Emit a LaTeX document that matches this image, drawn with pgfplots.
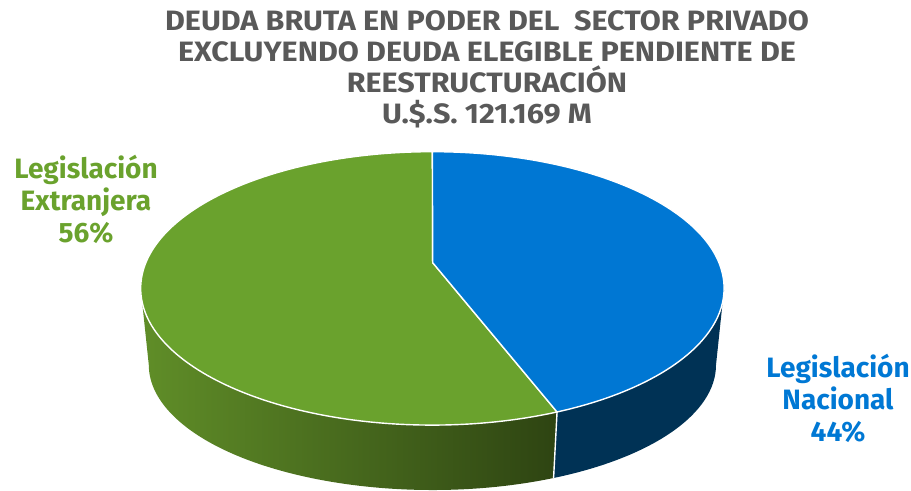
\documentclass[border=0pt]{standalone}
\usepackage{pgfplots}
\pgfplotsset{compat=1.18}
\usepackage{pgfplotstable}
\usepackage{fontspec}
\setmainfont{Fira Sans}
\newfontfamily\titlefont{Fira Sans}[FakeStretch=1.09]
\definecolor{gtop}{RGB}{106,162,45}
\definecolor{gside1}{RGB}{96,142,40}
\definecolor{gside2}{RGB}{46,68,18}
\definecolor{btop}{RGB}{0,119,211}
\definecolor{bside}{RGB}{0,50,85}
\definecolor{ttl}{RGB}{89,89,89}
\definecolor{glab}{RGB}{106,162,45}
\definecolor{blab}{RGB}{0,120,212}
\pgfplotstableread{
label value
Nacional 44
Extranjera 56
}\piedata
\begin{document}
\begin{tikzpicture}
\pgfplotstablegetelem{0}{value}\of\piedata
\let\valN\pgfplotsretval
% angle of the split (clockwise from top), with a perspective warp of the top face
\pgfmathsetmacro\thetaN{90-3.6*\valN}
\pgfmathsetmacro\psiHalf{(\thetaN-90)/2}
\pgfmathsetmacro\phiN{90+2*atan(0.85*tan(\psiHalf))}
\pgfmathsetmacro\phiA{\phiN+360}
\begin{axis}[scale only axis, width=455.5pt, height=245.5pt,
  xmin=0, xmax=911, ymin=0, ymax=491, hide axis, clip=false]
\path (axis cs:0,0) rectangle (axis cs:911,491);
\def\tc{axis cs:432.4,202.6}
\def\bc{axis cs:432.4,126}
\def\pc{axis cs:432.7,228.3}
% green side
\path[left color=gside1, right color=gside2]
  ([shift={(180:145.85pt and 68.35pt)}]\tc) arc[start angle=180, end angle=\phiA, x radius=145.85pt, y radius=68.35pt]
  -- ([shift={(\phiA:141.8pt and 62.5pt)}]\bc) arc[start angle=\phiA, end angle=180, x radius=141.8pt, y radius=62.5pt] -- cycle;
% navy side
\fill[bside]
  ([shift={(\phiA:145.85pt and 68.35pt)}]\tc) arc[start angle=\phiA, end angle=360, x radius=145.85pt, y radius=68.35pt]
  -- ([shift={(360:141.8pt and 62.5pt)}]\bc) arc[start angle=360, end angle=\phiA, x radius=141.8pt, y radius=62.5pt] -- cycle;
\draw[white, line width=0.7pt] ([shift={(\phiA:145.85pt and 68.35pt)}]\tc) -- ([shift={(\phiA:141.8pt and 62.5pt)}]\bc);
% top face
\filldraw[fill=gtop, draw=white, line width=0.7pt, line join=round]
  (\pc) -- ([shift={(90:145.85pt and 68.35pt)}]\tc) arc[start angle=90, end angle=\phiA, x radius=145.85pt, y radius=68.35pt] -- cycle;
\filldraw[fill=btop, draw=white, line width=0.7pt, line join=round]
  (\pc) -- ([shift={(90:145.85pt and 68.35pt)}]\tc) arc[start angle=90, end angle=\phiN, x radius=145.85pt, y radius=68.35pt] -- cycle;
% title
\node[align=center, text=ttl, font=\titlefont\fontsize{14}{15.5}\selectfont\bfseries] at (axis cs:487,422)
  {DEUDA BRUTA EN PODER DEL\ \ SECTOR PRIVADO\\EXCLUYENDO DEUDA ELEGIBLE PENDIENTE DE\\REESTRUCTURACIÓN\\U.\$.S. 121.169 M};
% labels
\node[align=center, text=glab, font=\fontsize{14}{16}\selectfont\bfseries] at (axis cs:86,292)
  {Legislación\\Extranjera\\56\%};
\node[align=center, text=blab, font=\fontsize{14}{16}\selectfont\bfseries] at (axis cs:838,93)
  {Legislación\\Nacional\\44\%};
\end{axis}
\pgfresetboundingbox
\path (current axis.south west) rectangle (current axis.north east);
\end{tikzpicture}
\end{document}
